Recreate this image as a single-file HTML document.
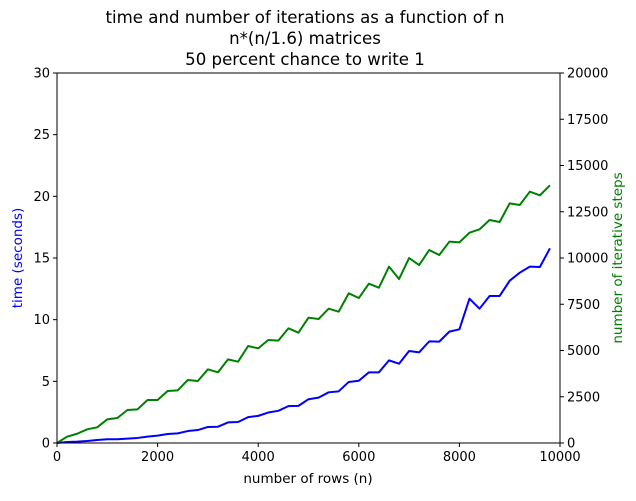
<!DOCTYPE html>
<html><head><meta charset="utf-8"><style>
body{margin:0;background:#fff;}
svg{font-family:"DejaVu Sans","Liberation Sans",sans-serif;}
</style></head><body>
<svg id="chart" width="636" height="496" viewBox="0 0 636 496" xmlns="http://www.w3.org/2000/svg">
<rect width="636" height="496" fill="#fff"/>
<g font-size="16.6" text-anchor="middle" fill="#000">
<text x="305" y="23">time and number of iterations as a function of n</text>
<text x="305" y="44">n*(n/1.6) matrices</text>
<text x="305" y="65">50 percent chance to write 1</text>
</g>
<g id="axes"></g>
<g id="series"></g>
<rect x="57" y="73" width="503" height="370" fill="none" stroke="#000" stroke-width="1"/>
<text x="308" y="483" font-size="13.5" text-anchor="middle">number of rows (n)</text>
<text transform="translate(22,258) rotate(-90)" font-size="13.5" text-anchor="middle" fill="blue">time (seconds)</text>
<text transform="translate(622,258) rotate(-90)" font-size="13.5" text-anchor="middle" fill="green">number of iterative steps</text>
</svg>
<script>
const nValues = [0,200,400,600,800,1000,1200,1400,1600,1800,2000,2200,2400,2600,2800,3000,3200,3400,3600,3800,4000,4200,4400,4600,4800,5000,5200,5400,5600,5800,6000,6200,6400,6600,6800,7000,7200,7400,7600,7800,8000,8200,8400,8600,8800,9000,9200,9400,9600,9800];
const timeValues = [0,0.08,0.11,0.16,0.24,0.3,0.3,0.35,0.41,0.52,0.6,0.73,0.78,0.97,1.05,1.3,1.32,1.67,1.7,2.1,2.2,2.47,2.61,2.99,3.01,3.55,3.68,4.11,4.19,4.95,5.05,5.73,5.73,6.7,6.43,7.46,7.35,8.24,8.22,9.03,9.22,11.7,10.89,11.92,11.92,13.16,13.81,14.3,14.27,15.78];
const stepValues = [0,342,500,739,847,1279,1351,1784,1820,2324,2324,2811,2847,3405,3351,3982,3820,4522,4396,5243,5117,5567,5531,6198,5963,6774,6702,7261,7099,8090,7837,8612,8396,9531,8864,9999,9621,10432,10161,10882,10846,11369,11549,12053,11945,12954,12864,13585,13386,13927];
const xTicks = [0,2000,4000,6000,8000,10000];
const leftTicks = [0,5,10,15,20,25,30];
const rightTicks = [0,2500,5000,7500,10000,12500,15000,17500,20000];

const L=57,R=560,T=73,B=443;
const xs=v=>L+(v/10000)*(R-L);
const yl=v=>B-(v/30)*(B-T);
const yr=v=>B-(v/20000)*(B-T);
const NS="http://www.w3.org/2000/svg";
const axes=document.getElementById('axes');
const series=document.getElementById('series');
function mk(tag,attrs,parent){const e=document.createElementNS(NS,tag);for(const k in attrs)e.setAttribute(k,attrs[k]);parent.appendChild(e);return e;}
xTicks.forEach(t=>{
  const x=xs(t);
  const l=mk('line',{x1:x,x2:x,y1:B,y2:B+4,stroke:'#000'},axes);
  
  
  const tx=mk('text',{x:x,y:B+18,'font-size':'13','text-anchor':'middle'},axes);
  tx.textContent=t;
  
  
});
leftTicks.forEach(t=>{
  const y=yl(t);
  const l=mk('line',{x1:L-4,x2:L,y1:y,y2:y,stroke:'#000'},axes);
  
  
  const tx=mk('text',{x:L-7,y:y+4.5,'font-size':'13','text-anchor':'end'},axes);
  tx.textContent=t;
  
  
});
rightTicks.forEach(t=>{
  const y=yr(t);
  const l=mk('line',{x1:R,x2:R+4,y1:y,y2:y,stroke:'#000'},axes);
  
  
  const tx=mk('text',{x:R+7,y:y+4.5,'font-size':'13','text-anchor':'start'},axes);
  tx.textContent=t;
  
  
});
const tp=mk('polyline',{points:nValues.map((n,i)=>xs(n)+','+yl(timeValues[i])).join(' '),fill:'none',stroke:'blue','stroke-width':'2','stroke-linejoin':'round'},series);


const sp=mk('polyline',{points:nValues.map((n,i)=>xs(n)+','+yr(stepValues[i])).join(' '),fill:'none',stroke:'green','stroke-width':'2','stroke-linejoin':'round'},series);


</script>
</body></html>
